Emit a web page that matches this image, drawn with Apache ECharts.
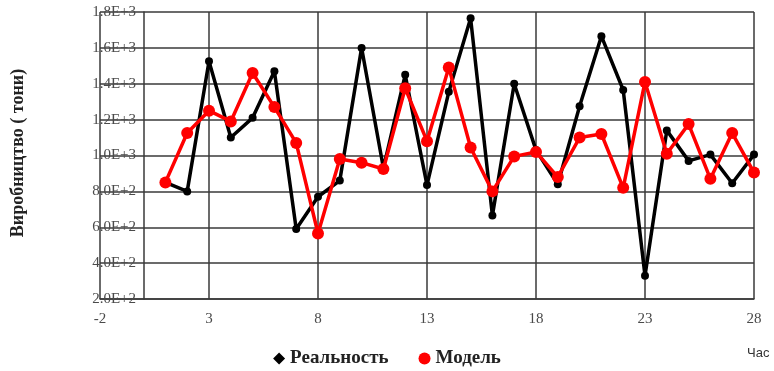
<!DOCTYPE html>
<html>
<head>
<meta charset="utf-8">
<script src="https://cdn.jsdelivr.net/npm/echarts@6/dist/echarts.min.js"></script>
<style>
html,body{margin:0;padding:0;background:#fff;}
#chart{width:774px;height:371px;}
</style>
</head>
<body>
<div id="chart"></div>
<script>
// Hours 1..28
var hours = [1,2,3,4,5,6,7,8,9,10,11,12,13,14,15,16,17,18,19,20,21,22,23,24,25,26,27,28];
// Measured production (tonnes)
var actual = [850,800,1525,1100,1210,1470,590,770,860,1600,930,1450,835,1355,1765,665,1400,1030,840,1275,1665,1365,330,1140,970,1005,845,1005];
// Model output (tonnes)
var model = [850,1125,1250,1190,1460,1270,1070,565,980,960,925,1375,1080,1490,1045,800,995,1020,880,1100,1120,820,1410,1010,1175,870,1125,905];

var seriesNames = ['Реальность', 'Модель'];
var yTitle = 'Виробництво ( тони)';
var xTitle = 'Час';

function pairs(xs, ys) {
  return xs.map(function (x, i) { return [x, ys[i]]; });
}

function sci(v) {
  var e = Math.floor(Math.log10(v));
  var m = v / Math.pow(10, e);
  return m.toFixed(1) + 'E+' + e;
}

var chart = echarts.init(document.getElementById('chart'), null, {renderer: 'canvas'});
var gridColor = '#3a3a3a';
var serif = '"Liberation Serif", "DejaVu Serif", serif';

chart.setOption({
  animation: false,
  grid: {left: 100, right: 20, top: 12, bottom: 72, containLabel: false, outerBoundsMode: 'none'},
  title: {
    text: xTitle, left: 742, top: 342,
    textStyle: {fontFamily: '"Liberation Sans", Arial, sans-serif', fontSize: 13, fontWeight: 'normal', color: '#333'}
  },
  graphic: [{
    type: 'text', x: 18, y: 153, rotation: Math.PI / 2,
    style: {
      text: yTitle, fontFamily: serif, fontSize: 18, fontWeight: 'bold', fill: '#222',
      align: 'center', verticalAlign: 'middle'
    }
  }],
  legend: {
    top: 344, left: 'center',
    itemGap: 30, itemWidth: 12, itemHeight: 12,
    data: [
      {name: seriesNames[0], icon: 'diamond'},
      {name: seriesNames[1], icon: 'circle'}
    ],
    textStyle: {fontFamily: serif, fontSize: 19, fontWeight: 'bold', color: '#222', padding: [6, 0, 0, 0]}
  },
  xAxis: {
    type: 'value', min: -2, max: 28, interval: 5,
    axisLine: {show: true, lineStyle: {color: gridColor, width: 1.5}},
    axisTick: {show: false},
    axisLabel: {fontFamily: serif, fontSize: 15, color: '#4a4a4a', margin: 13},
    splitLine: {show: true, lineStyle: {color: gridColor, width: 1.5}}
  },
  yAxis: {
    type: 'value', min: 200, max: 1800, interval: 200,
    axisLine: {show: true, onZero: true, lineStyle: {color: gridColor, width: 1.5}},
    axisTick: {show: false},
    axisLabel: {fontFamily: serif, fontSize: 15, color: '#4a4a4a', margin: -36, formatter: sci},
    splitLine: {show: true, lineStyle: {color: gridColor, width: 1.5}}
  },
  series: [
    {
      name: seriesNames[0], type: 'line', data: pairs(hours, actual),
      symbol: 'circle', symbolSize: 8,
      lineStyle: {color: '#000', width: 3.5},
      itemStyle: {color: '#000'}
    },
    {
      name: seriesNames[1], type: 'line', data: pairs(hours, model),
      symbol: 'circle', symbolSize: 12,
      lineStyle: {color: '#ff0000', width: 3.5},
      itemStyle: {color: '#ff0000'}
    }
  ]
});
</script>
</body>
</html>
